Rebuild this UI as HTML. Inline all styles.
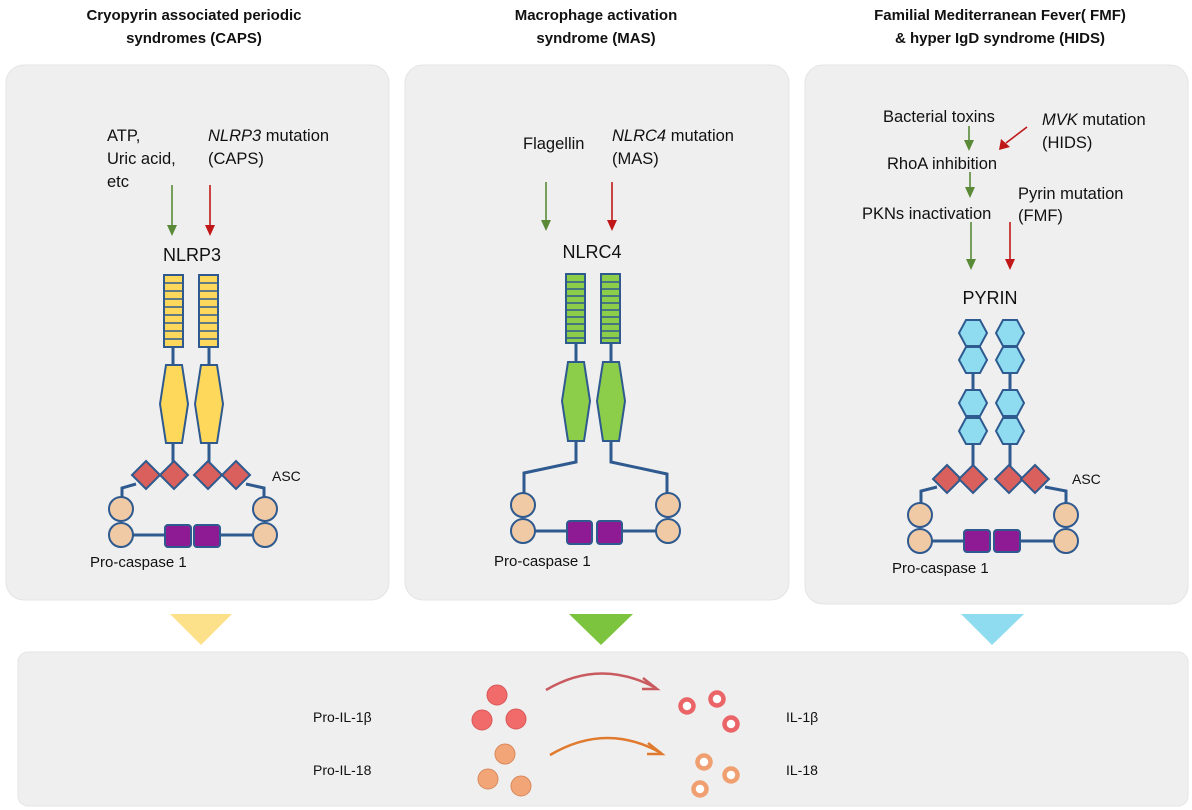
<!DOCTYPE html>
<html><head><meta charset="utf-8"><style>
body{margin:0;background:#fff;}
svg{display:block;font-family:"Liberation Sans",sans-serif;}
</style></head><body>
<svg width="1192" height="810" viewBox="0 0 1192 810" xmlns="http://www.w3.org/2000/svg">
<defs>
<g id="dia"><polygon points="0,-14 14,0 0,14 -14,0" fill="#d9605c" stroke="#2e5a8f" stroke-width="2"/></g>
<g id="circ"><circle r="12" fill="#f0c9a5" stroke="#2e5a8f" stroke-width="2"/></g>
<g id="hexb"><polygon points="-7,-13 7,-13 14,0 7,13 -7,13 -14,0" fill="#8fdcf0" stroke="#2e5a8f" stroke-width="2"/></g>
</defs>
<rect width="1192" height="810" fill="#fff"/>
<g font-weight="bold" font-size="15" fill="#111" text-anchor="middle">
<text x="194" y="20">Cryopyrin associated periodic</text>
<text x="194" y="43">syndromes (CAPS)</text>
<text x="596" y="20">Macrophage activation</text>
<text x="596" y="43">syndrome (MAS)</text>
<text x="1000" y="20">Familial Mediterranean Fever( FMF)</text>
<text x="1000" y="43">&amp; hyper IgD syndrome (HIDS)</text>
</g>
<rect x="6" y="65" width="383" height="535" rx="18" fill="#efefef" stroke="#e4e4e4"/>
<rect x="405" y="65" width="384" height="535" rx="18" fill="#efefef" stroke="#e4e4e4"/>
<rect x="805" y="65" width="383" height="539" rx="18" fill="#efefef" stroke="#e4e4e4"/>
<rect x="18" y="652" width="1170" height="154" rx="10" fill="#efefef" stroke="#e4e4e4"/>
<polygon points="170,614 232,614 201,645" fill="#fde08a"/>
<polygon points="569,614 633,614 601,645" fill="#7cc43e"/>
<polygon points="961,614 1024,614 992,645" fill="#8fdcf0"/>

<g font-size="16.5" fill="#111">
<text x="107" y="141">ATP,</text>
<text x="107" y="164">Uric acid,</text>
<text x="107" y="187">etc</text>
<text x="208" y="141"><tspan font-style="italic">NLRP3</tspan> mutation</text>
<text x="208" y="164">(CAPS)</text>
<text x="192" y="261" font-size="18" text-anchor="middle">NLRP3</text>
<text x="272" y="481" font-size="14">ASC</text>
<text x="90" y="567" font-size="15">Pro-caspase 1</text>
<text x="523" y="149">Flagellin</text>
<text x="612" y="141"><tspan font-style="italic">NLRC4</tspan> mutation</text>
<text x="612" y="164">(MAS)</text>
<text x="592" y="258" font-size="18" text-anchor="middle">NLRC4</text>
<text x="494" y="566" font-size="15">Pro-caspase 1</text>
<text x="883" y="122">Bacterial toxins</text>
<text x="1042" y="125"><tspan font-style="italic">MVK</tspan> mutation</text>
<text x="1042" y="148">(HIDS)</text>
<text x="887" y="169">RhoA inhibition</text>
<text x="1018" y="199">Pyrin mutation</text>
<text x="1018" y="221">(FMF)</text>
<text x="862" y="219">PKNs inactivation</text>
<text x="990" y="304" font-size="18" text-anchor="middle">PYRIN</text>
<text x="1072" y="484" font-size="14">ASC</text>
<text x="892" y="573" font-size="15">Pro-caspase 1</text>
<text x="313" y="722" font-size="14">Pro-IL-1β</text>
<text x="313" y="775" font-size="14">Pro-IL-18</text>
<text x="786" y="722" font-size="14">IL-1β</text>
<text x="786" y="775" font-size="14">IL-18</text>
</g>

<g stroke-width="1.6">
<line x1="172" y1="185" x2="172" y2="228" stroke="#5a8a38"/><polygon points="167,225 177,225 172,236" fill="#5a8a38"/>
<line x1="210" y1="185" x2="210" y2="228" stroke="#c01818"/><polygon points="205,225 215,225 210,236" fill="#c01818"/>
<line x1="546" y1="182" x2="546" y2="222" stroke="#5a8a38"/><polygon points="541,220 551,220 546,231" fill="#5a8a38"/>
<line x1="612" y1="182" x2="612" y2="222" stroke="#c01818"/><polygon points="607,220 617,220 612,231" fill="#c01818"/>
<line x1="969" y1="126" x2="969" y2="142" stroke="#5a8a38"/><polygon points="964,140 974,140 969,151" fill="#5a8a38"/>
<line x1="1027" y1="127" x2="1006" y2="143" stroke="#c01818"/><polygon points="1001,139 1010,147 999,150" fill="#c01818"/>
<line x1="970" y1="172" x2="970" y2="189" stroke="#5a8a38"/><polygon points="965,187 975,187 970,198" fill="#5a8a38"/>
<line x1="971" y1="222" x2="971" y2="261" stroke="#5a8a38"/><polygon points="966,259 976,259 971,270" fill="#5a8a38"/>
<line x1="1010" y1="222" x2="1010" y2="261" stroke="#c01818"/><polygon points="1005,259 1015,259 1010,270" fill="#c01818"/>
</g>

<g stroke="#2e5a8f" stroke-width="3" fill="none">
<path d="M173,347 V365 M173,443 V465 M209,347 V365 M209,443 V465"/>
<path d="M136,484 L122,488 V498 M246,484 L264,488 V498 M133,535 H166 M219,535 H253"/>
</g>
<g stroke="#2e5a8f" stroke-width="2" fill="#fdd85a">
<rect x="164" y="275" width="19" height="72"/><rect x="199" y="275" width="19" height="72"/>
<polygon points="166,365 182,365 188,404 182,443 166,443 160,404"/>
<polygon points="201,365 217,365 223,404 217,443 201,443 195,404"/>
</g>
<g stroke="#2e5a8f" stroke-width="1.5"><path d="M164,283H183M164,291H183M164,299H183M164,307H183M164,315H183M164,323H183M164,331H183M164,339H183M199,283H218M199,291H218M199,299H218M199,307H218M199,315H218M199,323H218M199,331H218M199,339H218"/></g>
<use href="#dia" x="146" y="475"/><use href="#dia" x="174" y="475"/><use href="#dia" x="208" y="475"/><use href="#dia" x="236" y="475"/>
<use href="#circ" x="121" y="509"/><use href="#circ" x="121" y="535"/><use href="#circ" x="265" y="509"/><use href="#circ" x="265" y="535"/>
<rect x="165" y="525" width="26" height="22" rx="3" fill="#8e1a94" stroke="#2e5a8f" stroke-width="2"/>
<rect x="194" y="525" width="26" height="22" rx="3" fill="#8e1a94" stroke="#2e5a8f" stroke-width="2"/>

<g stroke="#2e5a8f" stroke-width="3" fill="none">
<path d="M576,343 V362 M576,441 V462 L524,473 V494 M611,343 V362 M611,441 V462 L667,474 V494 M535,531 H567 M622,531 H656"/>
</g>
<g stroke="#2e5a8f" stroke-width="2" fill="#8ccd4a">
<rect x="566" y="274" width="19" height="69"/><rect x="601" y="274" width="19" height="69"/>
<polygon points="568,362 584,362 590,401 584,441 568,441 562,401"/>
<polygon points="603,362 619,362 625,401 619,441 603,441 597,401"/>
</g>
<g stroke="#2e5a8f" stroke-width="1.5"><path d="M566,282H585M566,289H585M566,296H585M566,303H585M566,310H585M566,317H585M566,324H585M566,331H585M566,338H585M601,282H620M601,289H620M601,296H620M601,303H620M601,310H620M601,317H620M601,324H620M601,331H620M601,338H620"/></g>
<use href="#circ" x="523" y="505"/><use href="#circ" x="523" y="531"/><use href="#circ" x="668" y="505"/><use href="#circ" x="668" y="531"/>
<rect x="567" y="521" width="25" height="23" rx="3" fill="#8e1a94" stroke="#2e5a8f" stroke-width="2"/>
<rect x="597" y="521" width="25" height="23" rx="3" fill="#8e1a94" stroke="#2e5a8f" stroke-width="2"/>

<g stroke="#2e5a8f" stroke-width="3" fill="none">
<path d="M973,333 V470 M1010,333 V470 M937,487 L921,491 V503 M1045,487 L1066,491 V503 M932,541 H965 M1020,541 H1055"/>
</g>
<use href="#hexb" x="973" y="333"/><use href="#hexb" x="973" y="360"/><use href="#hexb" x="973" y="403"/><use href="#hexb" x="973" y="431"/>
<use href="#hexb" x="1010" y="333"/><use href="#hexb" x="1010" y="360"/><use href="#hexb" x="1010" y="403"/><use href="#hexb" x="1010" y="431"/>
<use href="#dia" x="947" y="479"/><use href="#dia" x="973" y="479"/><use href="#dia" x="1009" y="479"/><use href="#dia" x="1035" y="479"/>
<use href="#circ" x="920" y="515"/><use href="#circ" x="920" y="541"/><use href="#circ" x="1066" y="515"/><use href="#circ" x="1066" y="541"/>
<rect x="964" y="530" width="26" height="22" rx="3" fill="#8e1a94" stroke="#2e5a8f" stroke-width="2"/>
<rect x="994" y="530" width="26" height="22" rx="3" fill="#8e1a94" stroke="#2e5a8f" stroke-width="2"/>

<g fill="#f26b6b" stroke="#d85858" stroke-width="1">
<circle cx="497" cy="695" r="10"/><circle cx="482" cy="720" r="10"/><circle cx="516" cy="719" r="10"/>
</g>
<g fill="#f2a678" stroke="#d8895c" stroke-width="1">
<circle cx="505" cy="754" r="10"/><circle cx="488" cy="779" r="10"/><circle cx="521" cy="786" r="10"/>
</g>
<g fill="#fff" stroke="#ea6468" stroke-width="4.5">
<circle cx="687" cy="706" r="6.5"/><circle cx="717" cy="699" r="6.5"/><circle cx="731" cy="724" r="6.5"/>
</g>
<g fill="#fff" stroke="#f0a070" stroke-width="4.5">
<circle cx="704" cy="762" r="6.5"/><circle cx="731" cy="775" r="6.5"/><circle cx="700" cy="789" r="6.5"/>
</g>
<path d="M546,690 Q600,658 656,688" stroke="#c95a60" stroke-width="2.5" fill="none"/>
<path d="M643,678 L657,689 L642,689" stroke="#c95a60" stroke-width="2.5" fill="none"/>
<path d="M550,755 Q606,722 661,753" stroke="#e07a2e" stroke-width="2.5" fill="none"/>
<path d="M648,743 L662,754 L647,754" stroke="#e07a2e" stroke-width="2.5" fill="none"/>
</svg>
</body></html>
